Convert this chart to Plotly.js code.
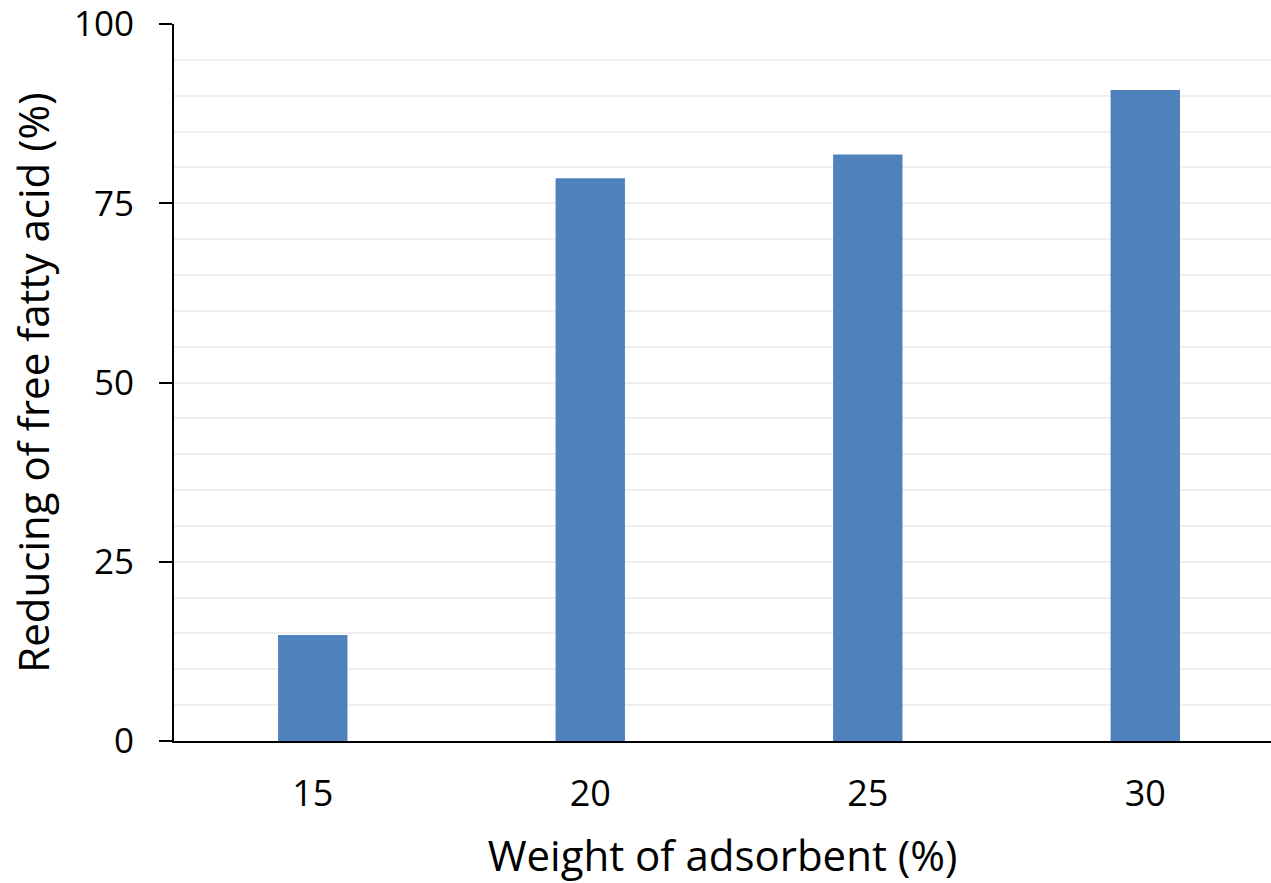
<!DOCTYPE html>
<html>
<head>
<meta charset="utf-8">
<script src="https://cdn.plot.ly/plotly-3.0.1.min.js"></script>
<style>html,body{margin:0;padding:0;background:#fff;}#chart{width:1271px;height:883px;}</style>
</head>
<body>
<div id="chart"></div>
<script>
const categories = ["15", "20", "25", "30"];
const ffaReduction = [14.8, 78.5, 81.8, 90.8];
const yTickVals = [0, 25, 50, 75, 100];
const xTitle = "Weight of adsorbent (%)";
const yTitle = "Reducing of free fatty acid (%)";

const FONT = "Open Sans, Liberation Sans, sans-serif";

Plotly.newPlot("chart", [{
  type: "bar",
  x: categories,
  y: ffaReduction,
  width: 0.25,
  marker: {color: "#4F81BD", line: {width: 0}},
  hoverinfo: "skip"
}], {
  width: 1271, height: 883,
  margin: {l: 174, r: 0, t: 24, b: 142},
  paper_bgcolor: "#ffffff", plot_bgcolor: "#ffffff",
  showlegend: false,
  font: {family: FONT, color: "#000000"},
  xaxis: {
    type: "category",
    range: [-0.5, 3.453],
    showline: true, linecolor: "#000000", linewidth: 2,
    showgrid: false, zeroline: false,
    ticks: "",
    tickfont: {size: 36, family: FONT, color: "#000"},
    ticklabelstandoff: 20,
    title: {text: xTitle, font: {size: 42, family: FONT, color: "#000"}, standoff: 27}
  },
  yaxis: {
    range: [0, 100],
    tickvals: yTickVals,
    ticktext: yTickVals.map(String),
    showline: true, linecolor: "#000000", linewidth: 2,
    ticks: "outside", ticklen: 13, tickwidth: 2, tickcolor: "#000",
    showgrid: true, gridcolor: "#efefef", gridwidth: 2,
    minor: {dtick: 5, showgrid: true, gridcolor: "#efefef", gridwidth: 2, ticks: ""},
    zeroline: false,
    ticklabeloverflow: "allow",
    tickfont: {size: 35, family: FONT, color: "#000"},
    ticklabelstandoff: 18,
    title: {text: yTitle, font: {size: 42, family: FONT, color: "#000"}, standoff: 11}
  }
}, {displayModeBar: false, staticPlot: true});
</script>
</body>
</html>
